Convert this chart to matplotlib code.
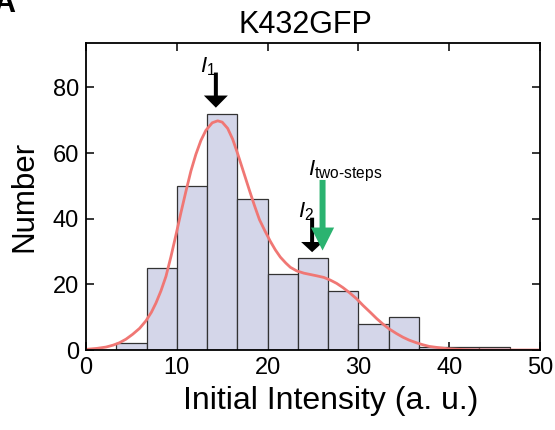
import matplotlib
matplotlib.use("Agg")
import matplotlib.pyplot as plt
import numpy as np

plt.rcParams['font.family'] = ['Liberation Sans', 'DejaVu Sans']
plt.rcParams['mathtext.fontset'] = 'custom'
plt.rcParams['mathtext.rm'] = 'Liberation Sans'
plt.rcParams['mathtext.it'] = 'Liberation Sans:italic'

# Histogram data
bin_edges = [0, 10/3, 20/3, 10, 40/3, 50/3, 20, 70/3, 80/3, 30, 100/3, 110/3, 40, 130/3, 140/3, 50]
counts = [0, 2, 25, 50, 72, 46, 23, 28, 18, 8, 10, 1, 1, 1, 0]

# Fitted curve
curve_x = [0.0, 1.2, 2.2, 3.0, 3.67, 4.4, 5.14, 5.9, 6.6, 7.2, 7.7, 8.25, 8.8, 9.35, 9.9,
           10.45, 11.0, 11.55, 12.1, 12.65, 13.2, 13.9, 14.5, 15.0, 15.6, 16.15, 16.7,
           17.35, 18.0, 18.55, 19.1, 19.7, 20.3, 20.85, 21.4, 22.0, 22.5, 23.2, 24.0,
           24.7, 25.4, 26.2, 26.9, 27.6, 28.3, 29.0, 29.8, 30.5, 31.3, 32.0, 32.7,
           33.4, 34.2, 34.9, 35.6, 36.4, 37.1, 37.8, 38.6, 40.0, 41.5, 43.0, 46.0, 50.0]
curve_y = [0.2, 0.5, 0.9, 1.5, 2.2, 3.3, 4.8, 6.6, 8.9, 11.5, 14.3, 18.0, 22.4, 28.4, 35.0,
           41.8, 48.3, 54.5, 59.6, 63.8, 66.9, 69.2, 69.8, 69.4, 67.5, 64.2, 59.8,
           54.2, 48.6, 44.0, 39.7, 36.3, 33.1, 30.5, 28.3, 26.5, 25.2, 24.1, 23.4,
           23.0, 22.6, 22.1, 21.3, 20.3, 19.0, 17.5, 15.6, 13.6, 11.5, 9.6, 7.9,
           6.4, 5.0, 3.9, 3.0, 2.2, 1.6, 1.1, 0.8, 0.35, 0.15, 0.05, 0.0, 0.0]

xticks = [0, 10, 20, 30, 40, 50]
yticks = [0, 20, 40, 60, 80]

fig = plt.figure(figsize=(5.55, 4.3), dpi=100)
ax = fig.add_axes([0.155, 0.186, 0.818, 0.714])

widths = np.diff(bin_edges)
ax.bar(bin_edges[:-1], counts, width=widths, align='edge', color='#D4D6E9',
       edgecolor='#333333', linewidth=0.9, zorder=2)
ax.plot(curve_x, curve_y, color='#F07774', linewidth=2.0, zorder=3)

ax.set_xlim(0, 50)
ax.set_ylim(0, 93.5)
ax.set_xticks(xticks)
ax.set_yticks(yticks)
ax.tick_params(direction='in', length=6, width=1.1, labelsize=17,
               top=True, right=True, pad=5)
for s in ax.spines.values():
    s.set_linewidth(1.3)
    s.set_zorder(5)

ax.set_xlabel('Initial Intensity (a. u.)', fontsize=23)
ax.xaxis.set_label_coords(0.54, -0.117)
ax.set_ylabel('Number', fontsize=22.5)
ax.yaxis.set_label_coords(-0.102, 0.5)
ax.text(0.483, 1.033, 'K432GFP', fontsize=22, ha='center', va='baseline',
        transform=ax.transAxes)

# Arrows (vertical; widths in x-units, lengths in y-units)
def arrow(x, y0, y1, color, shaft_w, head_w, head_l):
    ax.arrow(x, y0, 0, y1 - y0, width=shaft_w, head_width=head_w, head_length=head_l,
             length_includes_head=True, color=color, lw=0, zorder=6, clip_on=False)

arrow(14.3, 84.5, 73.8, 'black', 0.44, 2.64, 3.7)
arrow(24.9, 40.3, 29.8, 'black', 0.44, 2.42, 3.1)
arrow(26.05, 51.8, 30.3, '#2BB370', 0.66, 2.55, 7.0)

ax.text(12.6, 84.6, r'$I_{1}$', fontsize=16, ha='left', va='baseline', zorder=7)
ax.text(23.3, 40.4, r'$I_{2}$', fontsize=16, ha='left', va='baseline', zorder=7)
ax.text(24.4, 53.3, r'$I_{\mathrm{two\text{-}steps}}$', fontsize=16, ha='left',
        va='baseline', zorder=7)

fig.text(-0.012, 0.972, 'A', fontsize=22, fontweight='bold', ha='left', va='baseline')

fig.savefig('out.png', dpi=100)
